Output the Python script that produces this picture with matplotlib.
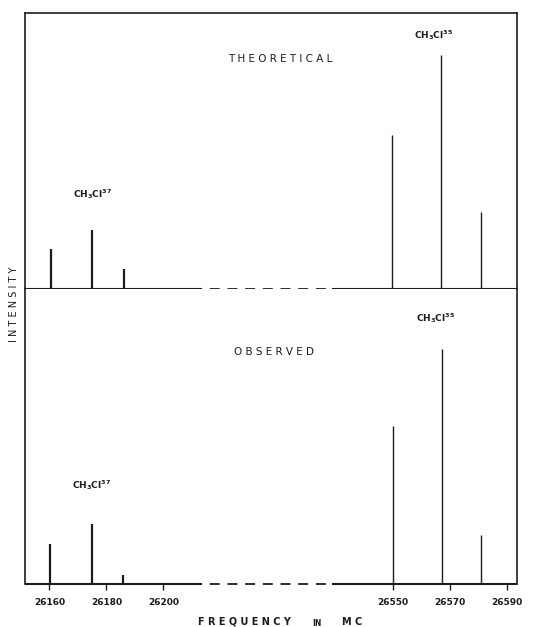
import numpy as np
import matplotlib
matplotlib.use('Agg')
import matplotlib.pyplot as plt

# line frequencies (MC) and relative intensities (strongest line = 100)
theo_freq = [26160.6, 26175.0, 26186.3, 26549.7, 26566.8, 26580.7]
theo_int = [17.2, 25.2, 8.7, 65.9, 100.0, 32.9]
obs_freq = [26160.3, 26174.8, 26185.9, 26549.9, 26567.0, 26580.9]
obs_int = [17.2, 25.6, 3.8, 67.3, 100.0, 20.7]
tick_freq = [26160, 26180, 26200, 26550, 26570, 26590]
tick_labels = ['26160', '26180', '26200', '26550', '26570', '26590']

# broken frequency axis: the stretch between BREAK_LO and BREAK_HI is squeezed
XMIN, XMAX = 26151.4, 26593.5
BREAK_LO, BREAK_HI = 26213.5, 26528.5
GAP = 45.8
_f_knots = [26000.0, BREAK_LO, BREAK_HI, 26700.0]
_d_knots = [26000.0, BREAK_LO, BREAK_LO + GAP, BREAK_LO + GAP + 171.5]


def fwd(f):
    return np.interp(f, _f_knots, _d_knots)


def inv(d):
    return np.interp(d, _d_knots, _f_knots)


INK = '#1c1c1c'

fig = plt.figure(figsize=(5.37, 6.27), dpi=100)
ax_t = fig.add_axes([0.0466, 0.5391, 0.9162, 0.4402])
ax_b = fig.add_axes([0.0466, 0.0686, 0.9162, 0.4705])


def panel(ax, freq, inten, ytop):
    ax.set_xscale('function', functions=(fwd, inv))
    ax.set_xlim(XMIN, XMAX)
    ax.set_ylim(0, ytop)
    lws = [1.6 if f < BREAK_LO else 1.0 for f in freq]
    ax.vlines(freq, 0, inten, colors=INK, linewidths=lws)
    # broken baseline
    ax.hlines(0, XMIN, BREAK_LO, colors=INK, linewidth=1.5, clip_on=False)
    ax.plot([BREAK_LO, BREAK_HI], [0, 0], color=INK, lw=1.3,
            linestyle=(5.5, (5.5, 4.3)), clip_on=False)
    ax.hlines(0, BREAK_HI, XMAX, colors=INK, linewidth=1.5, clip_on=False)
    ax.spines['bottom'].set_visible(False)
    for s in ('left', 'right', 'top'):
        ax.spines[s].set_color(INK)
        ax.spines[s].set_linewidth(1.2)
    ax.set_yticks([])


panel(ax_t, theo_freq, theo_int, 117.8)
panel(ax_b, obs_freq, obs_int, 125.6)
ax_b.spines['top'].set_visible(False)

ax_t.set_xticks([])
ax_b.set_xticks(tick_freq)
ax_b.set_xticklabels(tick_labels, fontsize=6.5, color=INK, fontweight='bold')
ax_b.tick_params(axis='x', direction='out', length=4, width=1, color=INK, pad=6)
ax_b.xaxis.set_minor_locator(matplotlib.ticker.NullLocator())
ax_t.xaxis.set_minor_locator(matplotlib.ticker.NullLocator())

lab = dict(fontsize=6.5, color=INK, ha='center', va='center')
ax_t.text(26564.3, 108.4, r'$\mathbf{CH_3Cl^{35}}$', **lab)
ax_t.text(26175.0, 40.5, r'$\mathbf{CH_3Cl^{37}}$', **lab)
ax_b.text(26565.0, 113.2, r'$\mathbf{CH_3Cl^{35}}$', **lab)
ax_b.text(26174.6, 42.0, r'$\mathbf{CH_3Cl^{37}}$', **lab)

ax_t.text(0.518, 0.833, 'T H E O R E T I C A L', transform=ax_t.transAxes,
          fontsize=7.5, color=INK, ha='center', va='center')
ax_b.text(0.507, 0.787, 'O B S E R V E D', transform=ax_b.transAxes,
          fontsize=7.5, color=INK, ha='center', va='center')

fig.text(244 / 537, 1 - 622 / 627, 'F R E Q U E N C Y', fontsize=7,
         fontweight='bold', color=INK, ha='center', va='center')
fig.text(317 / 537, 1 - 623 / 627, 'IN', fontsize=5.5,
         fontweight='bold', color=INK, ha='center', va='center')
fig.text(352 / 537, 1 - 622 / 627, 'M C', fontsize=7,
         fontweight='bold', color=INK, ha='center', va='center')
fig.text(14 / 537, 1 - 304 / 627, 'I N T E N S I T Y', fontsize=7,
         rotation=90, color=INK, ha='center', va='center')

plt.savefig('out.png', dpi=100)
plt.close()
